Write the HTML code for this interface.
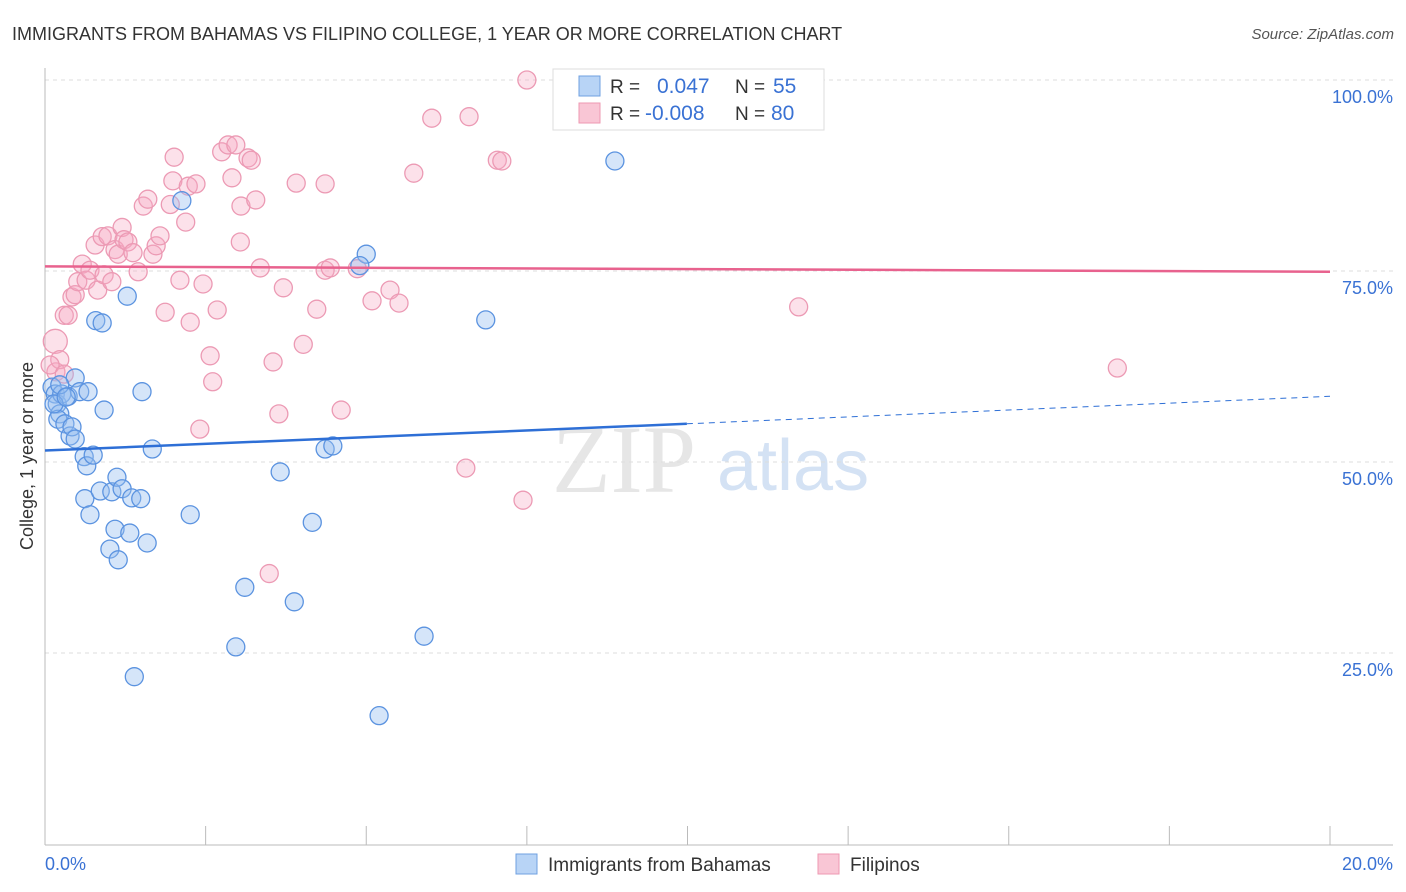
<!DOCTYPE html>
<html><head><meta charset="utf-8"><style>
body{margin:0;background:#fff;font-family:"Liberation Sans",sans-serif;}
svg{display:block}
</style></head><body>
<svg id="c" width="1406" height="892" xmlns="http://www.w3.org/2000/svg">
<text x="12" y="40" font-size="18" fill="#333">IMMIGRANTS FROM BAHAMAS VS FILIPINO COLLEGE, 1 YEAR OR MORE CORRELATION CHART</text>
<text x="1394" y="39" font-size="15" fill="#555" font-style="italic" text-anchor="end">Source: ZipAtlas.com</text>
<text transform="translate(33,456) rotate(-90)" font-size="18" fill="#333" text-anchor="middle">College, 1 year or more</text>
<g><text x="552" y="492" font-size="96" fill="#e6e6e6" font-family="Liberation Serif,serif">ZIP</text><text x="717" y="490" font-size="72" fill="#d4e2f4">atlas</text></g>
<g id="grid"></g><g id="marks"></g>
<g>
<rect x="553" y="69" width="271" height="61" fill="#fff" stroke="#ddd"/>
<rect x="579" y="76" width="21" height="20" fill="#b8d4f6" stroke="#6fa0e0"/>
<rect x="579" y="103" width="21" height="20" fill="#f9c6d5" stroke="#ee98b2"/>
<text x="610" y="93" font-size="19" fill="#333">R = </text><text x="657" y="93" font-size="21" fill="#3a72d4">0.047</text>
<text x="735" y="93" font-size="19" fill="#333">N = </text><text x="773" y="93" font-size="21" fill="#3a72d4">55</text>
<text x="610" y="120" font-size="19" fill="#333">R = </text><text x="645" y="120" font-size="21" fill="#3a72d4">-0.008</text>
<text x="735" y="120" font-size="19" fill="#333">N = </text><text x="771" y="120" font-size="21" fill="#3a72d4">80</text>
</g>
<g>
<rect x="516" y="854" width="21" height="20" fill="#b8d4f6" stroke="#6fa0e0"/>
<text x="548" y="871" font-size="19" fill="#333">Immigrants from Bahamas</text>
<rect x="818" y="854" width="21" height="20" fill="#f9c6d5" stroke="#ee98b2"/>
<text x="850" y="871" font-size="19" fill="#333">Filipinos</text>
</g>
</svg>
<script>
const xTicks=[0,2.5,5,7.5,10,12.5,15,17.5,20];
const yTicks=[25,50,75,100];
const yTickLabels=["25.0%","50.0%","75.0%","100.0%"];
const blueX=[0.11,0.16,0.19,0.23,0.2,0.26,0.31,0.39,0.42,0.47,0.36,0.47,0.54,0.67,0.61,0.65,0.75,0.62,0.7,0.92,0.86,1.04,1.12,1.2,1.35,1.49,1.01,1.09,1.14,1.32,1.59,1.67,1.51,1.28,0.79,0.89,2.13,2.26,3.11,2.97,1.39,3.66,3.88,4.16,4.36,4.48,5.0,4.9,5.2,5.9,6.86,8.87,0.14,0.23,0.33];
const blueY=[59.8,58.9,57.6,56.3,55.6,58.9,55.0,53.4,54.6,53.0,58.6,61.0,59.2,59.2,50.7,49.5,50.9,45.2,43.1,56.8,46.2,46.1,48.0,46.5,45.3,45.2,38.6,41.2,37.2,40.7,39.4,51.7,59.2,71.7,68.5,68.2,84.2,43.1,33.6,25.8,21.9,48.7,31.7,42.1,51.7,52.1,77.2,75.7,16.8,27.2,68.6,89.4,57.6,60.1,58.5];
const pinkX=[0.16,0.17,0.23,0.3,0.36,0.42,0.47,0.51,0.58,0.64,0.7,0.78,0.82,0.92,0.89,0.98,1.04,1.09,1.14,1.2,1.23,1.29,1.37,1.45,1.53,1.6,1.68,1.73,1.79,1.87,1.95,2.01,1.99,2.1,2.19,2.26,2.23,2.35,2.41,2.46,2.57,2.61,2.68,2.75,2.85,2.91,2.97,3.04,3.05,3.16,3.21,3.28,3.35,3.55,3.64,3.71,3.91,4.23,4.02,4.36,4.36,4.44,4.61,4.86,5.09,5.37,5.51,5.74,6.02,6.55,6.6,7.04,7.11,7.44,7.5,11.73,16.69,3.49,0.08,0.3];
const pinkY=[65.8,61.8,63.4,69.2,69.2,71.6,71.9,73.6,75.9,73.8,75.1,78.4,72.5,74.5,79.5,79.6,73.6,77.8,77.2,80.7,79.1,78.8,77.4,74.9,83.5,84.4,77.2,78.3,79.6,69.6,83.7,89.9,86.8,73.8,81.4,68.3,86.1,86.4,54.3,73.3,63.9,60.5,69.9,90.6,91.5,87.2,91.5,78.8,83.5,89.8,89.5,84.3,75.4,63.1,56.3,72.8,86.5,70.0,65.4,75.1,86.4,75.4,56.8,75.3,71.1,72.5,70.8,87.8,95.0,49.2,95.2,89.5,89.4,45.0,100.0,70.3,62.3,35.4,62.7,61.5];
const blueTrend=[[0,51.5],[9.99,55.0],[20,58.6]];
const pinkTrend=[[0,75.6],[20,74.9]];
const X=v=>45+v/20*1285, Y=v=>844-v/100*764;
const NS="http://www.w3.org/2000/svg";
function mk(t,a,p){const e=document.createElementNS(NS,t);for(const k in a)e.setAttribute(k,a[k]);p.appendChild(e);return e;}
const grid=document.getElementById('grid'),marks=document.getElementById('marks');
yTicks.forEach((t,i)=>{
 const l=mk('line',{x1:45,x2:1393,y1:Y(t),y2:Y(t),stroke:'#ddd','stroke-dasharray':'4,4'},grid);
 
 
 const tx=mk('text',{x:1393,y:Y(t)+23,'font-size':18,fill:'#3a72d4','text-anchor':'end'},grid);tx.textContent=yTickLabels[i];
 
 
});
const tl=mk('line',{x1:45,x2:1393,y1:Y(100),y2:Y(100),stroke:'#ddd','stroke-dasharray':'4,4'},grid);
mk('line',{x1:45,x2:45,y1:68,y2:845,stroke:'#bbb'},grid);
mk('line',{x1:45,x2:1393,y1:845,y2:845,stroke:'#bbb'},grid);
xTicks.forEach(t=>{const l=mk('line',{x1:X(t),x2:X(t),y1:826,y2:845,stroke:'#bbb'},grid);
 
 });
const x0=mk('text',{x:45,y:870,'font-size':18,fill:'#3a72d4'},grid);x0.textContent='0.0%';


const x1=mk('text',{x:1393,y:870,'font-size':18,fill:'#3a72d4','text-anchor':'end'},grid);x1.textContent='20.0%';


pinkX.forEach((v,i)=>{const c=mk('circle',{cx:X(v),cy:Y(pinkY[i]),r:i==0?12:9,fill:'rgba(246,170,195,0.35)',stroke:'#ec9ab4','stroke-width':1.3},marks);
 
 });
blueX.forEach((v,i)=>{const c=mk('circle',{cx:X(v),cy:Y(blueY[i]),r:9,fill:'rgba(150,190,240,0.4)',stroke:'#5b93e0','stroke-width':1.3},marks);
 
 });
let b=mk('line',{x1:X(blueTrend[0][0]),y1:Y(blueTrend[0][1]),x2:X(blueTrend[1][0]),y2:Y(blueTrend[1][1]),stroke:'#2e6fd6','stroke-width':2.5},marks);

b=mk('line',{x1:X(blueTrend[1][0]),y1:Y(blueTrend[1][1]),x2:X(blueTrend[2][0]),y2:Y(blueTrend[2][1]),stroke:'#2e6fd6','stroke-width':1,'stroke-dasharray':'6,5'},marks);

b=mk('line',{x1:X(pinkTrend[0][0]),y1:Y(pinkTrend[0][1]),x2:X(pinkTrend[1][0]),y2:Y(pinkTrend[1][1]),stroke:'#e8628e','stroke-width':2.5},marks);

</script>
</body></html>
